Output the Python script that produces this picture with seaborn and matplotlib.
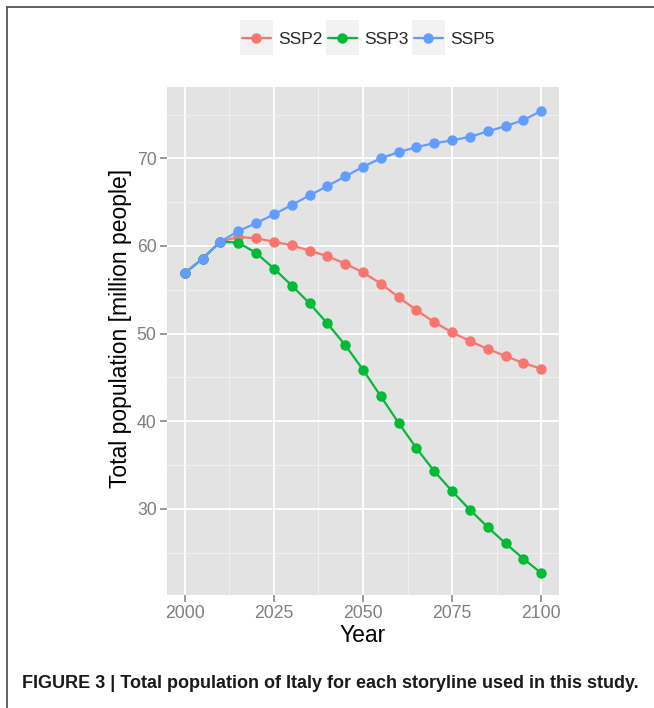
import numpy as np
import pandas as pd
import seaborn as sns
import matplotlib
matplotlib.use("Agg")
import matplotlib.pyplot as plt
from matplotlib.lines import Line2D
from matplotlib.patches import Rectangle
from matplotlib.ticker import MultipleLocator

# Population projections for Italy (million people), 5-year steps
years = list(range(2000, 2101, 5))
ssp2 = [56.9, 58.56, 60.49, 61.03, 60.87, 60.49, 60.07, 59.47, 58.82, 57.99, 56.97,
        55.7, 54.15, 52.67, 51.3, 50.13, 49.14, 48.25, 47.43, 46.63, 45.98]
ssp3 = [56.9, 58.56, 60.49, 60.38, 59.2, 57.42, 55.48, 53.45, 51.15, 48.69, 45.87,
        42.83, 39.8, 36.91, 34.29, 32.01, 29.89, 27.91, 26.05, 24.3, 22.67]
ssp5 = [56.9, 58.56, 60.49, 61.7, 62.6, 63.6, 64.67, 65.77, 66.83, 67.93, 69.03,
        70.0, 70.7, 71.28, 71.73, 72.04, 72.46, 73.07, 73.68, 74.36, 75.4]
scenarios = ["SSP2", "SSP3", "SSP5"]
colors = ["#F8766D", "#00BA38", "#619CFF"]
x_ticks = [2000, 2025, 2050, 2075, 2100]
y_ticks = [30, 40, 50, 60, 70]

df = pd.concat([
    pd.DataFrame({"Year": years, "Population": vals, "Scenario": name})
    for name, vals in zip(scenarios, [ssp2, ssp3, ssp5])
], ignore_index=True)

sns.set_theme(style="white")
plt.rcParams["font.family"] = ["Liberation Sans", "DejaVu Sans"]

W, H = 654, 708
fig = plt.figure(figsize=(W / 100, H / 100), dpi=100)
left, right, top, bottom = 167, 559, 87, 595
ax = fig.add_axes([left / W, 1 - bottom / H, (right - left) / W, (bottom - top) / H])

palette = dict(zip(scenarios, colors))
sns.lineplot(data=df, x="Year", y="Population", hue="Scenario", hue_order=scenarios,
             palette=palette, marker="o", markersize=7.5, markeredgewidth=0,
             linewidth=1.6, legend=False, ax=ax, zorder=3)

# ggplot-like panel
ax.set_facecolor("#E3E3E3")
for s in ax.spines.values():
    s.set_visible(False)
ax.set_xlim(1995, 2105)
ax.set_ylim(20.16, 78.14)
ax.set_xticks(x_ticks)
ax.set_yticks(y_ticks)
ax.xaxis.set_minor_locator(MultipleLocator(12.5))
ax.yaxis.set_minor_locator(MultipleLocator(5))
ax.grid(which="major", color="white", linewidth=1.3, zorder=0)
ax.grid(which="minor", color="#F2F2F2", linewidth=0.6, zorder=0)
ax.set_axisbelow(True)
ax.tick_params(which="major", length=5, width=1.1, color="#7F7F7F",
               labelcolor="#7F7F7F", labelsize=12.7, pad=2.5,
               bottom=True, left=True)
ax.tick_params(which="minor", length=0)
ax.set_xlabel("Year", fontsize=16.5, color="black", labelpad=1)
ax.set_ylabel("Total population [million people]", fontsize=16.5, color="black")
ax.yaxis.set_label_coords(-0.089, 0.524)

# Legend on top
handles = [Line2D([], [], color=c, marker="o", markersize=7.5, markeredgewidth=0,
                  linewidth=1.6) for c in colors]
leg = fig.legend(handles, scenarios, loc="center", ncol=3,
                 bbox_to_anchor=(368.5 / W, 1 - 39 / H), frameon=False,
                 fontsize=12.5, handlelength=1.65, handletextpad=0.45,
                 columnspacing=0.3, borderpad=0, borderaxespad=0)

fig.canvas.draw()
renderer = fig.canvas.get_renderer()
inv = fig.transFigure.inverted()
for h in leg.legend_handles:
    bb = h.get_window_extent(renderer)
    cx, cy = (bb.x0 + bb.x1) / 2, (bb.y0 + bb.y1) / 2
    (x0, y0), (x1, y1) = inv.transform([(cx - 16.5, cy - 17), (cx + 16.5, cy + 17)])
    fig.add_artist(Rectangle((x0, y0), x1 - x0, y1 - y0, transform=fig.transFigure,
                             facecolor="#F2F2F2", edgecolor="none", zorder=1))

# Frame lines of the figure box
fig.add_artist(Line2D([7 / W, 1], [1 - 6.5 / H] * 2, transform=fig.transFigure,
                      color="#555555", linewidth=1.3))
fig.add_artist(Line2D([7 / W, 7 / W], [0, 1 - 6.5 / H], transform=fig.transFigure,
                      color="#555555", linewidth=1.3))

fig.text(22 / W, 1 - 683 / H,
         "FIGURE 3 | Total population of Italy for each storyline used in this study.",
         fontsize=13, fontweight="bold", ha="left", va="center", color="#1a1a1a")

fig.savefig("out.png", dpi=100)
